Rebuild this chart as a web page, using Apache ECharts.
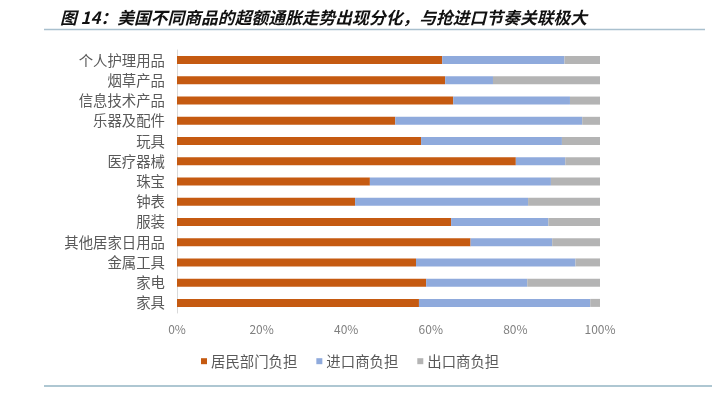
<!DOCTYPE html>
<html>
<head>
<meta charset="utf-8">
<script src="https://cdn.jsdelivr.net/npm/echarts@6/dist/echarts.min.js"></script>
<style>html,body{margin:0;padding:0;background:#fff;}#c{width:712px;height:397px;}</style>
</head>
<body>
<div id="c"></div>
<script>
const categories = ['个人护理用品','烟草产品','信息技术产品','乐器及配件','玩具','医疗器械','珠宝','钟表','服装','其他居家日用品','金属工具','家电','家具'];
const residentShare = [62.7, 63.4, 65.3, 51.6, 57.7, 80.1, 45.6, 42.1, 64.8, 69.4, 56.5, 58.9, 57.2];
const importerShare = [28.9, 11.3, 27.6, 44.2, 33.3, 11.7, 42.8, 40.9, 23.0, 19.3, 37.7, 23.9, 40.5];
const exporterShare = [8.4, 25.3, 7.1, 4.2, 9.0, 8.2, 11.6, 17.0, 12.2, 11.3, 5.8, 17.2, 2.3];
const seriesNames = ['居民部门负担','进口商负担','出口商负担'];
const xTicks = [0, 20, 40, 60, 80, 100];

const FONT = '"Noto Sans CJK SC", "Noto Sans", sans-serif';
const chart = echarts.init(document.getElementById('c'), null, {renderer: 'canvas'});
const colors = ['#C55A11', '#8FAADC', '#B4B4B4'];
const mk = (name, data, i) => ({
  name: name, type: 'bar', stack: 'total', data: data, barWidth: 8,
  itemStyle: {color: colors[i]}, emphasis: {disabled: true}
});
chart.setOption({
  animation: false,
  textStyle: {fontFamily: FONT},
  title: {
    text: '图 14：美国不同商品的超额通胀走势出现分化，与抢进口节奏关联极大',
    left: 55, top: 4,
    textStyle: {fontFamily: FONT, fontSize: 16.8, fontStyle: 'italic', fontWeight: 'bold', color: '#111'}
  },
  graphic: [
    {type: 'line', shape: {x1: 44, y1: 29.5, x2: 705, y2: 29.5}, style: {stroke: '#A9C0CE', lineWidth: 1.5}},
    {type: 'line', shape: {x1: 44, y1: 386, x2: 712, y2: 386}, style: {stroke: '#93B5C3', lineWidth: 1.5}}
  ],
  legend: {
    data: seriesNames, top: 349, left: 196,
    icon: 'rect', itemWidth: 6, itemHeight: 6, itemGap: 19,
    textStyle: {fontFamily: FONT, fontSize: 14.4, color: '#595959', padding: [0,0,0,-1]}
  },
  grid: {left: 177, right: 112, top: 50, bottom: 84, containLabel: false},
  xAxis: {
    type: 'value', min: xTicks[0], max: xTicks[xTicks.length-1], interval: 20,
    axisLine: {show: false}, axisTick: {show: false}, splitLine: {show: false},
    axisLabel: {formatter: '{value}%', color: '#7F7F7F', fontSize: 12, margin: 10, fontFamily: FONT}
  },
  yAxis: {
    type: 'category', data: categories, inverse: true,
    axisLine: {show: true, lineStyle: {color: '#D9D9D9', width: 1}},
    axisTick: {show: false},
    axisLabel: {color: '#595959', fontSize: 14.4, margin: 12, fontFamily: FONT}
  },
  series: [
    mk(seriesNames[0], residentShare, 0),
    mk(seriesNames[1], importerShare, 1),
    mk(seriesNames[2], exporterShare, 2)
  ]
});
</script>
</body>
</html>
